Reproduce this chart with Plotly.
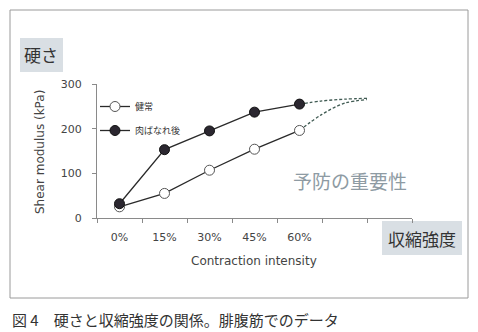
import plotly.graph_objects as go

# ---- data ----
categories = ["0%", "15%", "30%", "45%", "60%"]
x_idx = [0, 1, 2, 3, 4]
healthy = [25, 55, 107, 154, 196]          # 健常
injured = [32, 153, 195, 237, 255]         # 肉ばなれ後
proj_x = [4, 4.5, 5, 5.5]
healthy_proj = [196, 232, 257, 265]
injured_proj = [255, 262, 266, 268]
y_ticks = [0, 100, 200, 300]

W, H = 478, 332
L, R, T, B = 97, 412, 84, 218   # plot area in pixels


def xp(px):
    return (px - L) / (R - L)


def yp(py):
    return (B - py) / (B - T)


fig = go.Figure()
line_col = "#2a2a2a"
dash_col = "#3f5a52"

fig.add_trace(go.Scatter(x=proj_x, y=injured_proj, mode="lines", line=dict(color=dash_col, width=1.3, dash="3px,2px", shape="spline"), showlegend=False, hoverinfo="skip"))
fig.add_trace(go.Scatter(x=proj_x, y=healthy_proj, mode="lines", line=dict(color=dash_col, width=1.3, dash="3px,2px", shape="spline"), showlegend=False, hoverinfo="skip"))

fig.add_trace(go.Scatter(x=x_idx, y=healthy, mode="lines+markers", name="健常", legendgroup="a",
                         line=dict(color=line_col, width=1.3),
                         marker=dict(size=10, color="white", line=dict(color="#555", width=1))))
fig.add_trace(go.Scatter(x=x_idx, y=injured, mode="lines+markers", name="肉ばなれ後", legendgroup="b",
                         line=dict(color=line_col, width=1.3),
                         marker=dict(size=10, color="#2b2730", line=dict(color="#111", width=1))))

jp = "Noto Sans CJK JP"
lat = "DejaVu Sans"

fig.update_layout(
    width=W, height=H,
    margin=dict(l=L, r=W - R, t=T, b=H - B),
    paper_bgcolor="white", plot_bgcolor="white",
    showlegend=True,
    legend=dict(x=xp(95), y=yp(92), xanchor="left", yanchor="top", font=dict(family=jp, size=9, color="#333"),
                bgcolor="rgba(0,0,0,0)", itemwidth=30, traceorder="grouped", tracegroupgap=5),
    xaxis=dict(range=[-0.5, 6.5], tickvals=x_idx, ticktext=categories, ticks="", showgrid=False, zeroline=False,
               showline=True, linecolor="#8a8a8a", linewidth=1,
               tickfont=dict(family=lat, size=11, color="#444"), ticklabelstandoff=9,
               minor=dict(tick0=-0.5, dtick=1, ticks="outside", ticklen=4, tickcolor="#8a8a8a")),
    yaxis=dict(range=[0, 300], tickvals=y_ticks, ticks="outside", ticklen=4, tickcolor="#8a8a8a",
               showgrid=False, zeroline=False, showline=True, linecolor="#8a8a8a", linewidth=1,
               tickfont=dict(family=lat, size=11, color="#444"), ticklabelstandoff=8),
)

shapes = [
    dict(type="rect", xref="paper", yref="paper", x0=xp(10), x1=xp(468), y0=yp(298), y1=yp(10),
         line=dict(color="#9a9a9a", width=1), fillcolor="rgba(0,0,0,0)", layer="below"),
    dict(type="rect", xref="paper", yref="paper", x0=xp(20), x1=xp(63), y0=yp(72), y1=yp(38),
         line=dict(width=0), fillcolor="#d9dfe4", layer="below"),
    dict(type="rect", xref="paper", yref="paper", x0=xp(382), x1=xp(462), y0=yp(255), y1=yp(221),
         line=dict(width=0), fillcolor="#d9dfe4", layer="below"),
]
fig.update_layout(shapes=shapes)

ann = [
    dict(text="硬さ", x=xp(41.5), y=yp(55), font=dict(family=jp, size=17, color="#333")),
    dict(text="収縮強度", x=xp(422), y=yp(238), font=dict(family=jp, size=17, color="#333")),
    dict(text="予防の重要性", x=xp(350), y=yp(180), font=dict(family=jp, size=19, color="#8e9ba3")),
    dict(text="Shear modulus (kPa)", x=xp(40), y=yp(152), textangle=-90, font=dict(family=lat, size=12, color="#444")),
    dict(text="Contraction intensity", x=xp(254), y=yp(261), font=dict(family=lat, size=12, color="#444")),
    dict(text="図 4　硬さと収縮強度の関係。腓腹筋でのデータ", x=xp(10), y=yp(319), xanchor="left",
         font=dict(family=jp, size=15, color="#333")),
]
for a in ann:
    a.setdefault("xanchor", "center")
    fig.add_annotation(xref="paper", yref="paper", yanchor="middle", showarrow=False, **a)

fig.write_html("out.html")
